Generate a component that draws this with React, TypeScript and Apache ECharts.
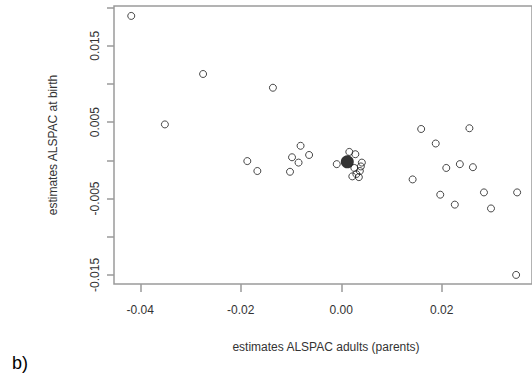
import React, { useEffect, useRef } from "react";
import * as echarts from "echarts";

// open-circle points: estimates ALSPAC adults (parents) vs estimates ALSPAC at birth
const parentsEst: number[] = [
  -0.0418, -0.0351, -0.0275, -0.0136,
  -0.0187, -0.0167, -0.0081, -0.0098, -0.0085, -0.0064, -0.0102,
  -0.0009, 0.0016, 0.0028, 0.0041, 0.0039, 0.0037, 0.0030, 0.0022, 0.0035, 0.0026,
  0.0159, 0.0255, 0.0188, 0.0209, 0.0236, 0.0262, 0.0142, 0.0197, 0.0226, 0.0284, 0.0298, 0.0350, 0.0348,
];
const birthEst: number[] = [
  0.0189, 0.0047, 0.0113, 0.0095,
  -0.0001, -0.0014, 0.0019, 0.0004, -0.0003, 0.0007, -0.0015,
  -0.0005, 0.0011, 0.0008, -0.0003, -0.0008, -0.0014, -0.0018, -0.0021, -0.0022, -0.0010,
  0.0041, 0.0042, 0.0022, -0.0010, -0.0005, -0.0009, -0.0025, -0.0045, -0.0058, -0.0042, -0.0063, -0.0042, -0.0150,
];
// filled point
const highlightX: number[] = [0.0012];
const highlightY: number[] = [-0.0002];

const xTicks: number[] = [-0.04, -0.02, 0.0, 0.02];
const yTicks: number[] = [-0.015, -0.01, -0.005, 0.0, 0.005, 0.01, 0.015, 0.02];
const yLabels: number[] = [-0.015, -0.005, 0.005, 0.015];

const xTitle = "estimates ALSPAC adults (parents)";
const yTitle = "estimates ALSPAC at birth";
const panelLabel = "b)";

export default function App() {
  const ref = useRef<HTMLDivElement>(null);
  useEffect(() => {
    document.body.style.margin = "0";
    document.body.style.overflow = "hidden";
    const chart = echarts.init(ref.current!, undefined, { renderer: "svg" });
    const font = "Liberation Sans, Arial, sans-serif";
    const openData = parentsEst.map((x, i) => [x, birthEst[i]]);
    const fillData = highlightX.map((x, i) => [x, highlightY[i]]);
    chart.setOption({
      animation: false,
      backgroundColor: "#fff",
      grid: {
        left: 114,
        top: 6,
        width: 423,
        height: 278,
        show: true,
        borderColor: "#9a9a9a",
        borderWidth: 1.5,
        backgroundColor: "transparent",
      },
      xAxis: {
        type: "value",
        min: -0.04523,
        max: 0.03796,
        axisLine: { show: false, onZero: false },
        splitLine: { show: false },
        axisTick: {
          show: true,
          inside: false,
          length: 8,
          customValues: xTicks,
          lineStyle: { color: "#9a9a9a", width: 1.5 },
        },
        axisLabel: {
          customValues: xTicks,
          margin: 20,
          color: "#333",
          fontSize: 12,
          fontFamily: font,
          formatter: (v: number) => v.toFixed(2),
        },
      },
      yAxis: {
        type: "value",
        min: -0.01619,
        max: 0.0202,
        axisLine: { show: false, onZero: false },
        splitLine: { show: false },
        axisTick: {
          show: true,
          inside: false,
          length: 7,
          customValues: yTicks,
          lineStyle: { color: "#9a9a9a", width: 1.5 },
        },
        axisLabel: {
          customValues: yLabels,
          rotate: 90,
          margin: 13,
          color: "#333",
          fontSize: 12,
          fontFamily: font,
          formatter: (v: number) => v.toFixed(3),
        },
      },
      series: [
        {
          type: "scatter",
          data: openData,
          symbol: "circle",
          symbolSize: 7,
          itemStyle: { color: "rgba(0,0,0,0)", borderColor: "#1a1a1a", borderWidth: 1 },
          emphasis: { disabled: true },
        },
        {
          type: "scatter",
          data: fillData,
          symbol: "circle",
          symbolSize: 13,
          itemStyle: { color: "#000" },
          emphasis: { disabled: true },
        },
      ],
      graphic: [
        {
          type: "text",
          x: 326,
          y: 347,
          style: {
            text: xTitle,
            align: "center",
            verticalAlign: "middle",
            fontSize: 12,
            fontFamily: font,
            fill: "#333",
          },
        },
        {
          type: "text",
          x: 53,
          y: 145,
          rotation: Math.PI / 2,
          style: {
            text: yTitle,
            align: "center",
            verticalAlign: "middle",
            fontSize: 12,
            fontFamily: font,
            fill: "#333",
          },
        },
        {
          type: "text",
          x: 12,
          y: 363,
          style: {
            text: panelLabel,
            align: "left",
            verticalAlign: "middle",
            fontSize: 18,
            fontFamily: font,
            fill: "#000",
          },
        },
      ],
    });
    return () => chart.dispose();
  }, []);
  return <div ref={ref} style={{ width: 532, height: 381 }} />;
}
